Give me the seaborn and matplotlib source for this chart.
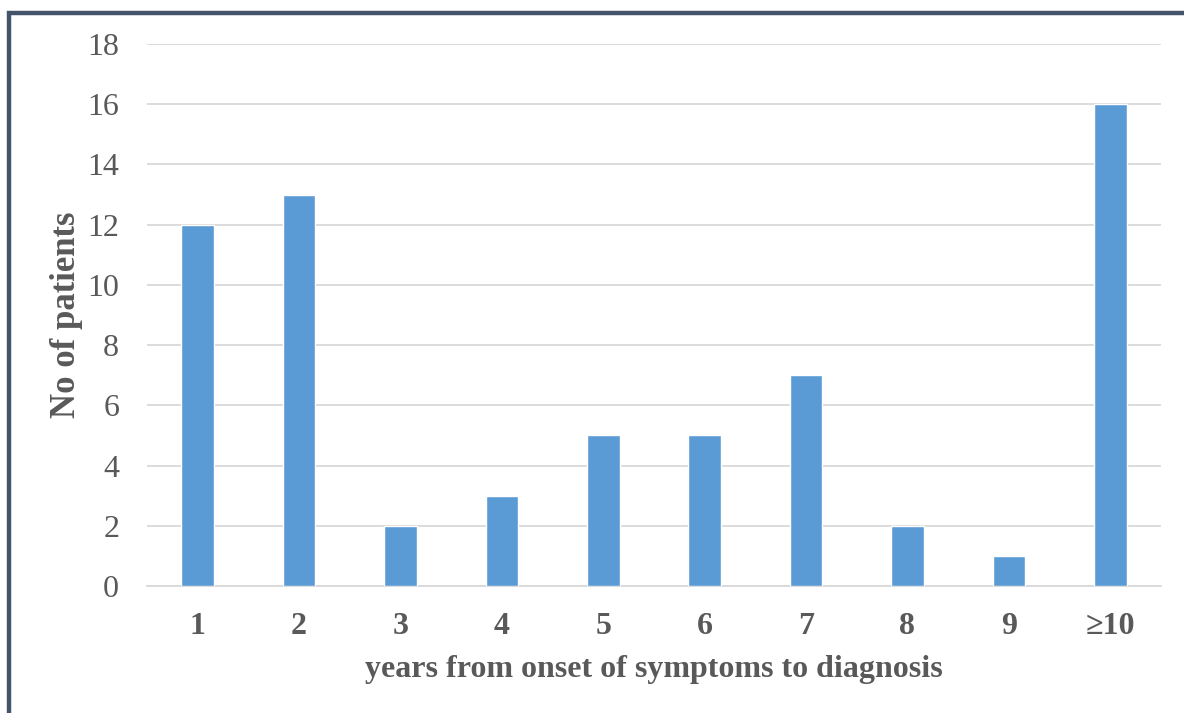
import matplotlib
matplotlib.use("Agg")
import matplotlib.pyplot as plt
from matplotlib.patches import Rectangle
import seaborn as sns
import pandas as pd

years = ["1", "2", "3", "4", "5", "6", "7", "8", "9", "\u226510"]
patients = [12, 13, 2, 3, 5, 5, 7, 2, 1, 16]
y_ticks = [0, 2, 4, 6, 8, 10, 12, 14, 16, 18]

df = pd.DataFrame({"years": years, "patients": patients})

sns.set_theme(style="white")
plt.rcParams["font.family"] = ["Liberation Serif", "DejaVu Serif"]

W, H = 1184, 713
fig = plt.figure(figsize=(W / 100, H / 100), dpi=100)
ax = fig.add_axes([147 / W, 1 - 586 / H, (1161 - 147) / W, (586 - 44) / H])

sns.barplot(data=df, x="years", y="patients", color="#5B9BD5", saturation=1,
            width=0.32, ax=ax, zorder=3)

ax.set_ylim(0, 18)
ax.set_xlim(-0.5, len(years) - 0.5)
ax.set_yticks(y_ticks)
ax.yaxis.grid(True, color="#D9D9D9", linewidth=1.3, zorder=0)
ax.set_axisbelow(True)
for side in ["left", "right", "top"]:
    ax.spines[side].set_visible(False)
ax.spines["bottom"].set_color("#D9D9D9")
ax.spines["bottom"].set_linewidth(1.3)
ax.tick_params(axis="both", length=0)
ax.tick_params(axis="y", labelsize=23, labelcolor="#595959", pad=20)
ax.tick_params(axis="x", labelsize=23, labelcolor="#595959", pad=19)
for lbl in ax.get_xticklabels():
    lbl.set_fontweight("bold")

ax.set_xlabel("years from onset of symptoms to diagnosis", fontsize=23,
              fontweight="bold", color="#595959", labelpad=10)
ax.set_ylabel("No of patients", fontsize=25, fontweight="bold",
              color="#595959", labelpad=3)

# outer frame, running off the right and bottom edges
frame = Rectangle((9 / W, -0.1), 1.2, 1 - 13 / H + 0.1, transform=fig.transFigure,
                  fill=False, edgecolor="#44546A", linewidth=3.2, clip_on=False)
fig.add_artist(frame)

fig.savefig("out.png", dpi=100, facecolor="white")
